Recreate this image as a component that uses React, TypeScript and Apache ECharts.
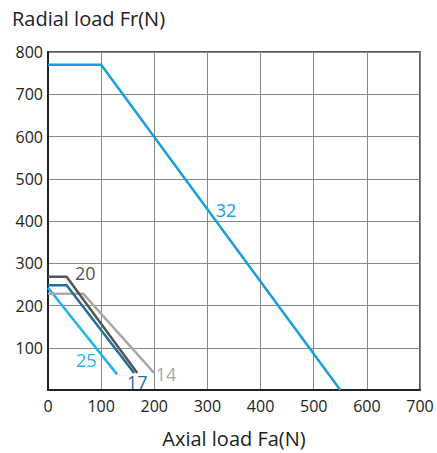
import React, { useEffect, useRef } from "react";
import * as echarts from "echarts";

const xTicks = [0, 100, 200, 300, 400, 500, 600, 700];
const yTicks = [0, 100, 200, 300, 400, 500, 600, 700, 800];

const names = ["32", "20", "17", "14", "25"];
const colors = ["#1a9de0", "#555555", "#1f6e9c", "#a8a8a8", "#1fb4ea"];
const line32 = [[0, 770], [100, 770], [550, 0]];
const line20 = [[0, 268], [35, 268], [168, 40]];
const line17 = [[0, 248], [35, 248], [162, 40]];
const line14 = [[0, 228], [66, 228], [200, 40]];
const line25 = [[0, 242], [130, 37]];
const lines = [line32, line20, line17, line14, line25];
const labelPos = [[335, 425], [70, 277], [168, 20], [222, 37], [72, 71]];
const drawOrder = [4, 3, 2, 1, 0];

export default function App() {
  const ref = useRef<HTMLDivElement>(null);
  useEffect(() => {
    const chart = echarts.init(ref.current!, null, { renderer: "svg" });
    const font = "'Open Sans', 'Noto Sans', sans-serif";
    chart.setOption({
      animation: false,
      backgroundColor: "#ffffff",
      grid: { left: 48, right: 17, top: 52, bottom: 62, show: true, borderColor: "#222", borderWidth: 1.5, backgroundColor: "transparent" },
      xAxis: {
        type: "value", min: 0, max: 700, interval: 100,
        name: "Axial load Fa(N)", nameLocation: "middle", nameGap: 38,
        nameTextStyle: { fontSize: 20, color: "#222", fontFamily: font },
        axisLine: { show: true, lineStyle: { color: "#222", width: 2 } },
        axisTick: { show: false },
        axisLabel: { fontSize: 16, color: "#222", fontFamily: font, margin: 8 },
        splitLine: { show: true, lineStyle: { color: "#888", width: 1 } },
      },
      yAxis: {
        type: "value", min: 0, max: 800, interval: 100,
        name: "Radial load Fr(N)", nameLocation: "end", nameGap: 24,
        nameTextStyle: { fontSize: 20, color: "#222", fontFamily: font, align: "left", padding: [0, 0, 0, -36] },
        axisLine: { show: true, lineStyle: { color: "#222", width: 2 } },
        axisTick: { show: false },
        axisLabel: { fontSize: 16, color: "#222", fontFamily: font, margin: 5, formatter: (v: number) => (v === 0 ? "" : String(v)) },
        splitLine: { show: true, lineStyle: { color: "#888", width: 1 } },
      },
      series: drawOrder.map((i) => ({
        type: "line",
        name: names[i],
        data: lines[i],
        showSymbol: false,
        symbol: "none",
        lineStyle: { color: colors[i], width: 2.5 },
        markPoint: {
          symbol: "circle",
          symbolSize: 0,
          data: [{ coord: labelPos[i], value: names[i] }],
          label: { show: true, position: "inside", formatter: names[i], color: colors[i], fontSize: 18, fontFamily: font },
        },
        z: 3,
      })),
    });
    return () => chart.dispose();
  }, []);
  return <div ref={ref} style={{ width: 437, height: 453, position: "absolute", left: 0, top: 0 }} />;
}
